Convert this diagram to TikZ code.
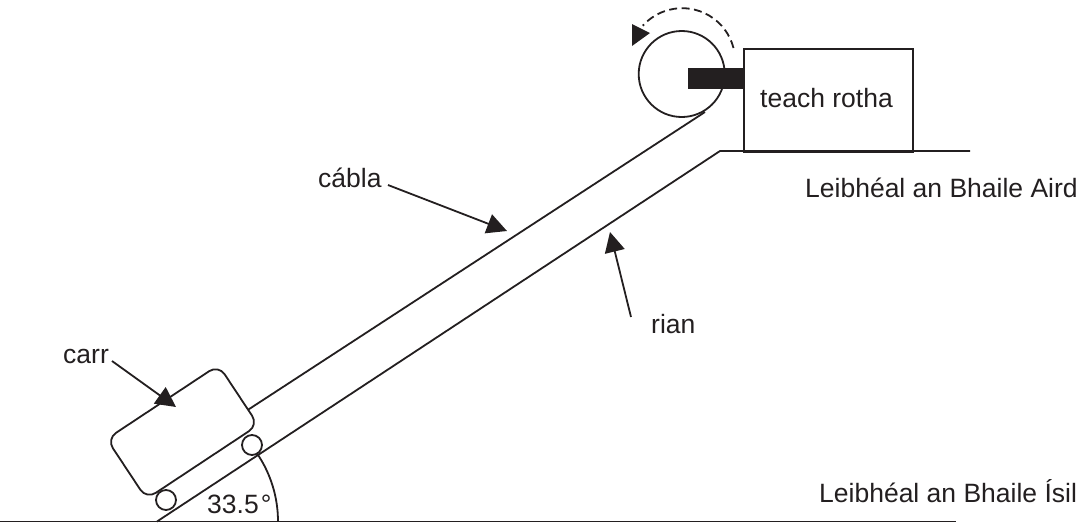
\documentclass[tikz,border=0pt]{standalone}
\usepackage{fontspec}
\setmainfont{Liberation Sans}
\usetikzlibrary{arrows.meta}
\definecolor{ink}{RGB}{35,31,32}
\tikzset{
  x=1pt,y=-1pt,
  line/.style={draw=ink,line width=1.8pt},
  pointer/.style={line,-{Triangle[length=20pt,width=20pt]}},
  lbl/.style={inner sep=0pt,text=ink,font=\fontsize{26.5}{26.5}\selectfont,anchor=base west},
}
\begin{document}
\begin{tikzpicture}
\useasboundingbox (0,0) rectangle (1080,523);
% ground and rail
\coordinate (g1) at (0,521.5);
\coordinate (g2) at (956,521.5);
\coordinate (r1) at (157,521.5);
\coordinate (r2) at (720,151);
\coordinate (r3) at (970,151);
\draw[line] (g1) -- (g2);
\draw[line] (r1) -- (r2) -- (r3);
% wheel house
\node[line,minimum width=169pt,minimum height=103pt,inner sep=0pt,anchor=north west] (house) at (743,48) {};
\node[lbl] (ht) at (760,107.5) {teach rotha};
% drum
\node[line,circle,minimum size=86pt,inner sep=0pt] (drum) at (681.7,74) {};
\node[fill=ink,minimum width=55pt,minimum height=21pt,inner sep=0pt,anchor=east] (bar) at (743,78.5) {};
% cable
\coordinate (c1) at (240,415);
\coordinate (c2) at (705,112);
\draw[line] (c1) -- (c2);
% car
\node[line,fill=white,rounded corners=11pt,minimum width=134pt,minimum height=72pt,rotate=33.5,inner sep=0pt] (car) at (182.5,432) {};
\node[line,circle,minimum size=20pt,inner sep=0pt] (w1) at (252,445) {};
\node[line,circle,minimum size=20pt,inner sep=0pt] (w2) at (166,500) {};
% angle
\coordinate (a2) at (278,521.5);
\draw[line] (a2) arc[start angle=0,end angle=34,radius=121pt];
\node[lbl] (ang) at (207,513) {33.5\kern2pt°};
% rotation arrow
\coordinate (d1) at (733.5,48);
\draw[line,dash pattern=on 8pt off 4.5pt] (d1) arc[start angle=14.4,end angle=138,radius=53pt];
\fill[ink] (632,46) -- (632,24) -- (650,33) -- cycle;
% labels and pointers
\node[lbl] (carr) at (63,363) {carr};
\coordinate (carrtip) at (176,407);
\draw[pointer] (112,361) -- (carrtip);
\node[lbl] (cabla) at (318,187) {cábla};
\coordinate (cablatip) at (507,231);
\draw[pointer] (388,185) -- (cablatip);
\node[lbl] (rian) at (651,333) {rian};
\coordinate (riantip) at (610,232);
\draw[pointer] (631,317) -- (riantip);
\node[lbl] (high) at (805,197) {Leibhéal an Bhaile Aird};
\node[lbl] (low) at (819,502) {Leibhéal an Bhaile Ísil};
\end{tikzpicture}
\end{document}
